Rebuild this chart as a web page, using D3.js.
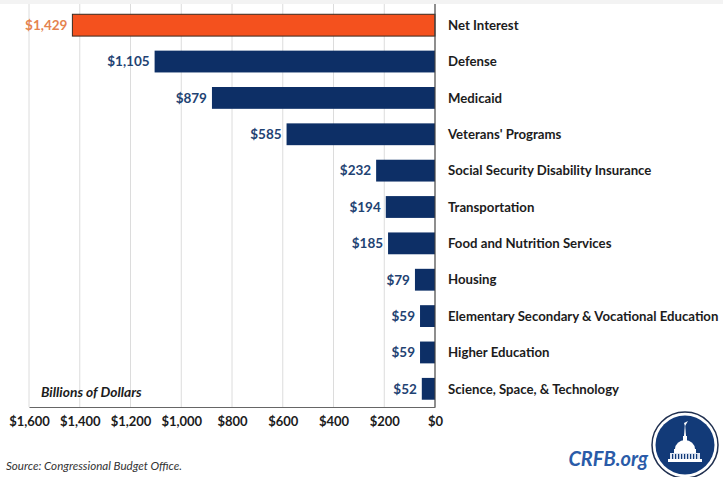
<!DOCTYPE html>
<html>
<head>
<meta charset="utf-8">
<script src="https://cdn.jsdelivr.net/npm/d3@7/dist/d3.min.js"></script>
<style>
  html, body { margin: 0; padding: 0; background: #fff; }
  svg { display: block; }
  text { font-family: Lato, "Open Sans", sans-serif; }
</style>
</head>
<body>
<svg id="chart" width="723" height="477"></svg>
<script>
// Budget categories and their spending, in billions of dollars
const categories = [
  "Net Interest",
  "Defense",
  "Medicaid",
  "Veterans' Programs",
  "Social Security Disability Insurance",
  "Transportation",
  "Food and Nutrition Services",
  "Housing",
  "Elementary Secondary & Vocational Education",
  "Higher Education",
  "Science, Space, & Technology"
];
const spending = [1429, 1105, 879, 585, 232, 194, 185, 79, 59, 59, 52];
const highlighted = ["Net Interest"];
const xTicks = [1600, 1400, 1200, 1000, 800, 600, 400, 200, 0];

const svg = d3.select("#chart");
const W = 723, H = 477;
const plot = { left: 29, right: 435, top: 6, bottom: 407 };

const rows = categories.map((c, i) => ({ name: c, value: spending[i] }));

// Bars grow leftward from zero at the right edge
const x = d3.scaleLinear().domain([1600, 0]).range([plot.left, plot.right]);
const y = d3.scaleBand().domain(categories).range([plot.top + 1, plot.bottom]).paddingInner(0.4).paddingOuter(0.2);

const fmt = v => "$" + d3.format(",")(v);

// faint band along the top
svg.append("rect").attr("x", 0).attr("y", 0).attr("width", W).attr("height", 4).attr("fill", "#f3f3f3");

// vertical gridlines
svg.append("g")
  .selectAll("line")
  .data(xTicks.filter(t => t !== 0))
  .join("line")
  .attr("x1", d => x(d)).attr("x2", d => x(d))
  .attr("y1", plot.top - 2).attr("y2", plot.bottom)
  .attr("stroke", "#dcdcdc").attr("stroke-width", 1);

// bars
svg.append("g")
  .selectAll("rect")
  .data(rows)
  .join("rect")
  .attr("x", d => x(d.value))
  .attr("y", d => y(d.name))
  .attr("width", d => x(0) - x(d.value))
  .attr("height", y.bandwidth())
  .attr("fill", d => highlighted.includes(d.name) ? "#f4511e" : "#0d2f66")
  .attr("stroke", d => highlighted.includes(d.name) ? "#3a2a20" : "none")
  .attr("stroke-width", 1);

// value labels left of each bar
svg.append("g")
  .selectAll("text")
  .data(rows)
  .join("text")
  .attr("x", d => x(d.value) - 5)
  .attr("y", d => y(d.name) + y.bandwidth() / 2)
  .attr("dy", "0.36em")
  .attr("text-anchor", "end")
  .attr("font-size", 13.5)
  .attr("font-weight", 700)
  .attr("fill", d => highlighted.includes(d.name) ? "#e5834f" : "#1f4373")
  .text(d => fmt(d.value));

// category labels right of the zero line
svg.append("g")
  .selectAll("text")
  .data(rows)
  .join("text")
  .attr("x", plot.right + 13)
  .attr("y", d => y(d.name) + y.bandwidth() / 2)
  .attr("dy", "0.36em")
  .attr("font-size", 13.2)
  .attr("font-weight", 700)
  .attr("fill", "#1c1c1c")
  .text(d => d.name);

// zero line and bottom axis
svg.append("line")
  .attr("x1", x(0)).attr("x2", x(0))
  .attr("y1", plot.top - 2).attr("y2", plot.bottom)
  .attr("stroke", "#444").attr("stroke-width", 1.2);

const xAxis = d3.axisBottom(x).tickValues(xTicks).tickFormat(fmt).tickSize(0).tickPadding(10);
const axisG = svg.append("g").attr("transform", `translate(0,${plot.bottom})`).call(xAxis);
axisG.select(".domain").attr("stroke", "#666").attr("stroke-width", 1.2);
axisG.selectAll("text")
  .attr("font-family", "Lato, sans-serif")
  .attr("font-size", 13)
  .attr("font-weight", 700)
  .attr("fill", "#1c1c1c");

// units note
svg.append("text")
  .attr("x", 41).attr("y", 397)
  .attr("font-size", 13.8).attr("font-weight", 700).attr("font-style", "italic")
  .attr("fill", "#1c1c1c")
  .text("Billions of Dollars");

// source line
svg.append("text")
  .attr("x", 6).attr("y", 470)
  .attr("font-size", 11.6).attr("font-style", "italic")
  .attr("fill", "#333")
  .text("Source: Congressional Budget Office.");

// organisation mark
svg.append("text")
  .attr("x", 648).attr("y", 466)
  .attr("text-anchor", "end")
  .attr("font-size", 20).attr("font-weight", 700).attr("font-style", "italic")
  .attr("fill", "#2a5ba8")
  .text("CRFB.org");

const logo = svg.append("g").attr("transform", "translate(685,445)");
logo.append("circle").attr("r", 33).attr("fill", "#fff").attr("stroke", "#1f2f4f").attr("stroke-width", 1.5);
logo.append("circle").attr("r", 29.5).attr("fill", "#123a78");
// capitol silhouette
const cap = logo.append("g").attr("fill", "#fff").attr("stroke", "none");
cap.append("rect").attr("x", -17).attr("y", 14).attr("width", 34).attr("height", 3);
cap.append("rect").attr("x", -15).attr("y", 8).attr("width", 30).attr("height", 6).attr("fill", "#dfe6f2");
cap.append("g").selectAll("rect").data(d3.range(-13, 14, 3)).join("rect")
  .attr("x", d => d).attr("y", 9).attr("width", 1.2).attr("height", 5).attr("fill", "#123a78");
cap.append("rect").attr("x", -11).attr("y", 4).attr("width", 22).attr("height", 4);
cap.append("path").attr("d", "M-10,4 A10,9 0 0 1 10,4 Z");
cap.append("rect").attr("x", -2).attr("y", -9).attr("width", 4).attr("height", 5);
cap.append("path").attr("d", "M-1,-9 L0,-22 L1,-9 Z");
cap.append("path").attr("d", "M-1,-22 L3,-24 L0,-19 Z");
</script>
</body>
</html>
